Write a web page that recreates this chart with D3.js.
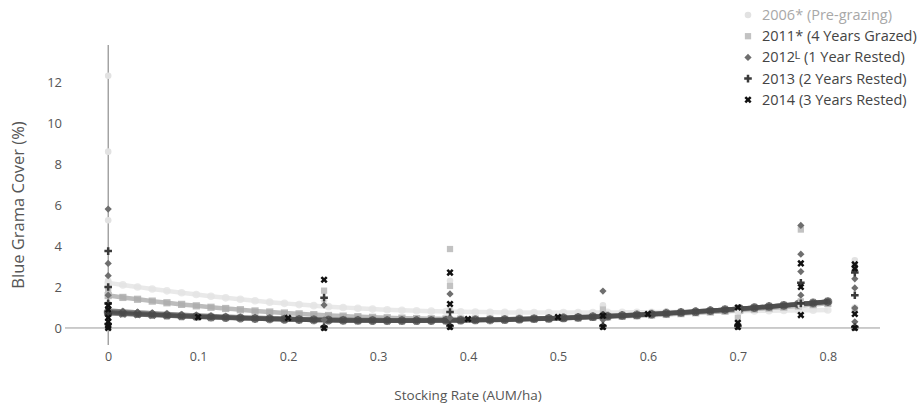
<!DOCTYPE html>
<html><head><meta charset="utf-8">
<script src="https://cdn.jsdelivr.net/npm/d3@7"></script>
<style>body{margin:0;background:#fff;font-family:"Open Sans",sans-serif;}</style>
</head><body><svg id="c" width="917" height="408"></svg>
<script>
// ---- data ----
const seriesNames = ["2006* (Pre-grazing)", "2011* (4 Years Grazed)", "2012\u1d38 (1 Year Rested)", "2013 (2 Years Rested)", "2014 (3 Years Rested)"];
const xTicks = [0, 0.1, 0.2, 0.3, 0.4, 0.5, 0.6, 0.7, 0.8];
const yTicks = [0, 2, 4, 6, 8, 10, 12];
// fitted-curve sample positions: 50 points from 0 to 0.8
const fitCount = 50;
const fit2006 = [2.20,2.10,2.00,1.90,1.81,1.72,1.63,1.55,1.47,1.40,1.33,1.26,1.20,1.14,1.09,1.04,1.00,0.96,0.92,0.89,0.86,0.84,0.82,0.80,0.79,0.78,0.77,0.76,0.76,0.75,0.75,0.75,0.75,0.75,0.76,0.76,0.77,0.77,0.78,0.79,0.80,0.80,0.81,0.82,0.83,0.84,0.85,0.86,0.87,0.88];
const fit2011 = [1.58,1.49,1.40,1.31,1.23,1.15,1.08,1.01,0.95,0.89,0.83,0.78,0.73,0.69,0.65,0.61,0.58,0.55,0.52,0.50,0.48,0.46,0.45,0.44,0.43,0.43,0.43,0.43,0.44,0.45,0.46,0.48,0.50,0.52,0.54,0.57,0.60,0.63,0.66,0.70,0.74,0.78,0.82,0.87,0.92,0.97,1.02,1.08,1.14,1.20];
const fit2012 = [0.85,0.80,0.76,0.72,0.68,0.64,0.61,0.58,0.55,0.52,0.50,0.48,0.46,0.44,0.42,0.41,0.40,0.39,0.39,0.38,0.38,0.38,0.38,0.39,0.39,0.40,0.41,0.42,0.44,0.46,0.48,0.50,0.53,0.55,0.58,0.61,0.65,0.68,0.72,0.76,0.80,0.85,0.89,0.94,0.99,1.04,1.10,1.16,1.22,1.28];
const fit2013 = [0.78,0.74,0.70,0.66,0.63,0.59,0.56,0.53,0.51,0.48,0.46,0.44,0.42,0.41,0.39,0.38,0.37,0.37,0.36,0.36,0.36,0.36,0.36,0.37,0.38,0.39,0.40,0.41,0.43,0.45,0.47,0.49,0.52,0.55,0.58,0.61,0.64,0.68,0.72,0.76,0.80,0.85,0.89,0.94,0.99,1.05,1.10,1.16,1.22,1.28];
const fit2014 = [0.72,0.69,0.66,0.63,0.60,0.57,0.55,0.52,0.50,0.48,0.46,0.44,0.42,0.41,0.39,0.38,0.37,0.36,0.36,0.35,0.35,0.35,0.36,0.36,0.37,0.38,0.39,0.40,0.42,0.44,0.46,0.48,0.51,0.54,0.57,0.60,0.63,0.67,0.71,0.75,0.79,0.84,0.89,0.94,0.99,1.04,1.10,1.16,1.22,1.29];
// observed points: [stocking rate, cover]
const obs2006 = [[0,12.3],[0,8.6],[0,5.25],[0,2.3],[0,1.2],[0.24,1.35],[0.38,2.3],[0.38,0.9],[0.55,1.1],[0.7,0.8],[0.77,1.1],[0.83,3.3],[0.83,1.0]];
const obs2011 = [[0,1.8],[0,0.9],[0.24,1.82],[0.38,3.85],[0.38,2.05],[0.55,0.9],[0.7,0.5],[0.77,4.8],[0.77,1.3],[0.83,3.0],[0.83,0.9]];
const obs2012 = [[0,5.8],[0,3.15],[0,2.55],[0,1.6],[0,0.9],[0.24,1.12],[0.24,0.4],[0.38,1.66],[0.38,0.5],[0.55,1.8],[0.55,0.4],[0.7,0.2],[0.77,5.0],[0.77,3.6],[0.77,2.75],[0.77,1.6],[0.83,2.4],[0.83,1.95],[0.83,0.97],[0.83,0.3]];
const obs2013 = [[0,3.75],[0,2.0],[0,1.2],[0,0.7],[0,0.2],[0.24,1.48],[0.24,0.05],[0.38,0.78],[0.38,0.1],[0.55,0.63],[0.55,0.1],[0.7,0.1],[0.77,2.2],[0.77,1.2],[0.83,2.7],[0.83,1.6],[0.83,0.05]];
const obs2014 = [[0,1.1],[0,0.9],[0,0.5],[0,0.3],[0,0.1],[0,0.0],[0.24,2.35],[0.24,0.0],[0.38,2.7],[0.38,1.17],[0.38,0.05],[0.55,0.6],[0.55,0.05],[0.7,0.25],[0.7,0.05],[0.77,3.15],[0.77,2.0],[0.77,0.63],[0.83,3.1],[0.83,2.9],[0.83,0.68],[0.83,0.0],[0.1,0.53],[0.2,0.49],[0.4,0.44],[0.5,0.53],[0.6,0.68],[0.7,1.0]];

// ---- chart ----
const fits = [fit2006, fit2011, fit2012, fit2013, fit2014];
const obs = [obs2006, obs2011, obs2012, obs2013, obs2014];
const colors = ["#e2e2e2", "#c2c2c2", "#6e6e6e", "#3a3a3a", "#111111"];
const lineColors = ["#e3e3e3", "#ababab", "#6a6a6a", "#5a5a5a", "#4a4a4a"];
const legendText = ["#a8a8a8", "#444", "#444", "#444", "#444"];
const FONT = "'Open Sans', sans-serif";

const svg = d3.select("#c");
const x = d3.scaleLinear().domain([-0.048, 0.858]).range([65, 880]);
const y = d3.scaleLinear().domain([-0.83, 13.8]).range([345, 45]);
const xStep = 0.8 / (fitCount - 1);

// marker shapes (r = half size in px)
function symPath(k, r) {
  if (k === 0) return d3.symbol(d3.symbolCircle, Math.PI * r * r)();
  if (k === 1) return d3.symbol(d3.symbolSquare, 4 * r * r * 0.9)();
  if (k === 2) return `M0,${-r * 1.1}L${r * 1.1},0L0,${r * 1.1}L${-r * 1.1},0Z`;
  const t = r * 0.38, L = r * 1.15;
  return `M${-t},${-L}H${t}V${-t}H${L}V${t}H${t}V${L}H${-t}V${t}H${-L}V${-t}H${-t}Z`;
}
const rot = k => (k === 4 ? " rotate(45)" : "");

// zero lines
svg.append("line").attr("x1", 65).attr("x2", 880).attr("y1", y(0)).attr("y2", y(0))
  .attr("stroke", "#999").attr("stroke-width", 1);
svg.append("line").attr("x1", x(0)).attr("x2", x(0)).attr("y1", 45).attr("y2", 345)
  .attr("stroke", "#777").attr("stroke-width", 1);

// y tick labels
const gy = svg.append("g").attr("transform", "translate(62,0)")
  .call(d3.axisLeft(y).tickValues(yTicks).tickSize(0).tickPadding(0));
gy.select(".domain").remove();
gy.selectAll("text").attr("font-family", FONT).attr("font-size", 13).attr("fill", "#555");

// x tick labels
const gx = svg.append("g").attr("transform", "translate(0,352)")
  .call(d3.axisBottom(x).tickValues(xTicks).tickSize(0).tickPadding(0)
    .tickFormat(d => d === 0 ? "0" : d3.format(".1f")(d)));
gx.select(".domain").remove();
gx.selectAll("text").attr("font-family", FONT).attr("font-size", 12.5).attr("fill", "#555");

// axis titles
svg.append("text").attr("x", x(0.4)).attr("y", 400).attr("text-anchor", "middle")
  .attr("font-family", FONT).attr("font-size", 13.5).attr("fill", "#555").text("Stocking Rate (AUM/ha)");
svg.append("text").attr("transform", `translate(24,${y(6.0)}) rotate(-90)`).attr("text-anchor", "middle")
  .attr("font-family", FONT).attr("font-size", 16.5).attr("fill", "#555").text("Blue Grama Cover (%)");

// fitted lines with markers
const line = d3.line().x((d, i) => x(i * xStep)).y(d => y(d)).curve(d3.curveMonotoneX);
fits.forEach((f, k) => {
  svg.append("path").datum(f).attr("d", line).attr("fill", "none")
    .attr("stroke", lineColors[k]).attr("stroke-width", 4.5).attr("stroke-opacity", 0.8);
  svg.append("g").selectAll("path").data(f).join("path")
    .attr("d", symPath(k, 3.8))
    .attr("transform", (d, i) => `translate(${x(i * xStep)},${y(d)})` + rot(k))
    .attr("fill", lineColors[k]).attr("fill-opacity", 0.8);
});

// observed points
obs.forEach((pts, k) => {
  svg.append("g").selectAll("path").data(pts).join("path")
    .attr("d", symPath(k, 3.3))
    .attr("transform", d => `translate(${x(d[0])},${y(d[1])})` + rot(k))
    .attr("fill", colors[k]);
});

// legend
seriesNames.forEach((name, k) => {
  const cy = 15 + k * 21.2;
  svg.append("path").attr("d", symPath(k, 3.3))
    .attr("transform", `translate(748,${cy})` + rot(k))
    .attr("fill", colors[k]);
  svg.append("text").attr("x", 762).attr("y", cy + 5)
    .attr("font-family", FONT).attr("font-size", 14.5).attr("fill", legendText[k]).text(name);
});
</script></body></html>
